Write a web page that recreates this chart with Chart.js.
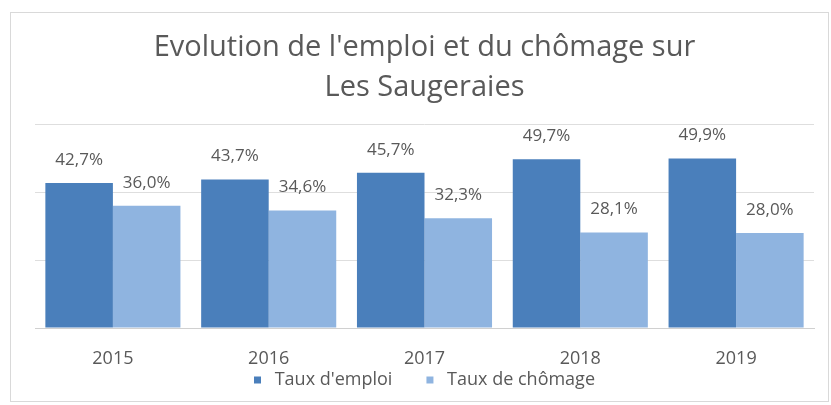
<!DOCTYPE html>
<html lang="fr">
<head>
<meta charset="utf-8">
<title>Evolution de l'emploi et du chômage</title>
<script src="https://cdn.jsdelivr.net/npm/chart.js@4"></script>
<style>
  html, body { margin: 0; padding: 0; background: #fff; overflow: hidden; }
  #cadre {
    position: absolute; left: 10px; top: 12px;
    width: 817px; height: 388px;
    border: 1px solid #d9d9d9;
  }
  #wrap { position: absolute; left: 0; top: 0; width: 831px; height: 405px; }
</style>
</head>
<body>
<div id="cadre"></div>
<div id="wrap"><canvas id="graphique" width="831" height="405"></canvas></div>
<script>
// Données
const annees = ["2015", "2016", "2017", "2018", "2019"];
const tauxEmploi = [42.7, 43.7, 45.7, 49.7, 49.9];
const tauxChomage = [36.0, 34.6, 32.3, 28.1, 28.0];
const titre = ["Evolution de l'emploi et du chômage sur", "Les Saugeraies"];

const gris = "#595959";
const police = "'Open Sans', sans-serif";

// Etiquettes au-dessus des barres (format français)
const etiquettes = {
  id: "etiquettes",
  afterDatasetsDraw(chart) {
    const ctx = chart.ctx;
    ctx.save();
    ctx.font = "17px " + police;
    ctx.fillStyle = gris;
    ctx.textAlign = "center";
    ctx.textBaseline = "middle";
    chart.data.datasets.forEach((ds, i) => {
      chart.getDatasetMeta(i).data.forEach((barre, j) => {
        const txt = ds.data[j].toFixed(1).replace(".", ",") + "%";
        ctx.fillText(txt, barre.x, barre.y - 23);
      });
    });
    ctx.restore();
  },
};

// petit espace en plus dans la légende, comme dans Excel
const genererLegende = (chart) =>
  Chart.defaults.plugins.legend.labels.generateLabels(chart).map((item, i) => {
    item.text = " " + item.text + (i === 0 ? "      " : "");
    return item;
  });

new Chart(document.getElementById("graphique"), {
  type: "bar",
  data: {
    labels: annees,
    datasets: [
      {
        label: "Taux d'emploi",
        data: tauxEmploi,
        backgroundColor: "#4a7fbb",
        categoryPercentage: 0.867,
        barPercentage: 1,
      },
      {
        label: "Taux de chômage",
        data: tauxChomage,
        backgroundColor: "#8fb4e0",
        categoryPercentage: 0.867,
        barPercentage: 1,
      },
    ],
  },
  options: {
    responsive: false,
    animation: false,
    layout: { padding: { left: 35, right: 17, top: 7, bottom: 6 } },
    scales: {
      x: {
        grid: { display: false, drawTicks: false },
        border: { color: "#d0d0d0" },
        ticks: { color: gris, font: { family: police, size: 18, lineHeight: 1.1 }, padding: 21 },
        // hauteur fixe de l'axe pour coller la légende sous les années
        afterFit: (axe) => { axe.height = 37; },
      },
      y: {
        min: 0,
        max: 60,
        ticks: { display: false, stepSize: 20 },
        grid: { color: "#dedede", drawTicks: false },
        border: { display: false },
      },
    },
    plugins: {
      title: {
        display: true,
        text: titre,
        color: gris,
        font: { family: police, size: 29, weight: "normal", lineHeight: 1.4 },
        padding: { top: 20, bottom: 16 },
      },
      legend: {
        position: "bottom",
        labels: {
          color: gris,
          font: { family: police, size: 18, lineHeight: 1 },
          boxWidth: 7,
          boxHeight: 7,
          padding: 6,
          generateLabels: genererLegende,
        },
      },
      tooltip: { enabled: false },
    },
  },
  plugins: [etiquettes],
});
</script>
</body>
</html>
